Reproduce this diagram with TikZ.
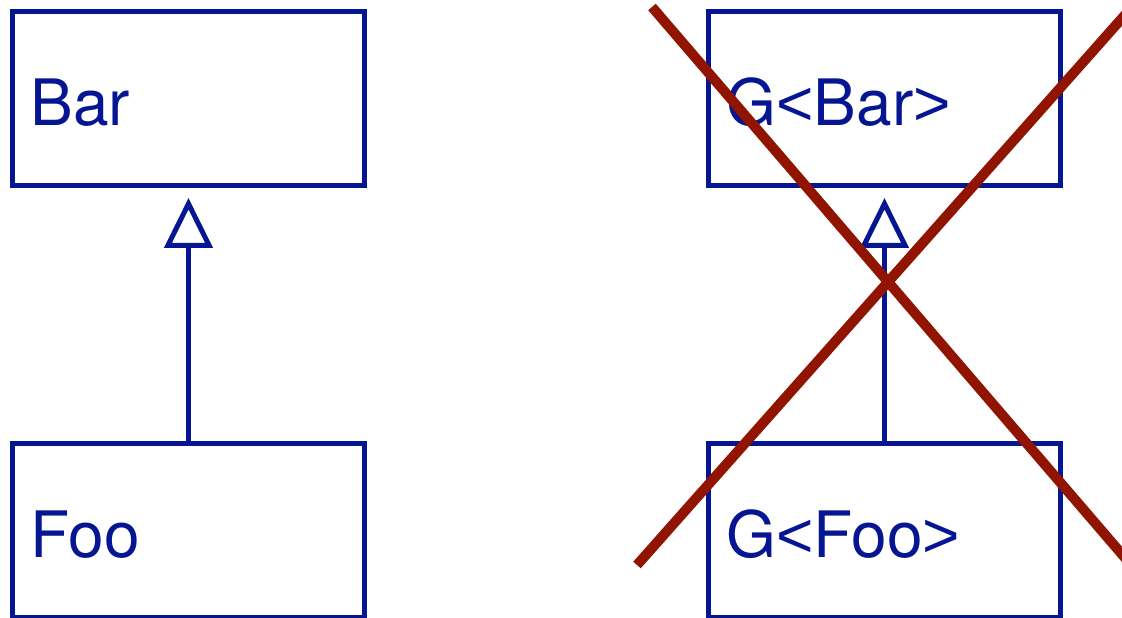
\documentclass[tikz,border=0pt]{standalone}
\usepackage{fontspec}
\setmainfont{TeX Gyre Heros}
\newfontfamily\brk{Liberation Sans}
\newcommand{\lt}{{\brk<}}
\newcommand{\gtr}{{\brk>}}
\usetikzlibrary{arrows.meta}
\definecolor{umlblue}{RGB}{6,22,146}
\definecolor{crossred}{RGB}{145,20,0}
\tikzset{
  umlbox/.style={draw=umlblue, line width=5pt, minimum width=352pt, minimum height=174pt, inner sep=0pt, fill=white},
  umltext/.style={anchor=base west, inner sep=0pt, text=umlblue, font=\fontsize{64pt}{64pt}\selectfont},
  inherit/.style={draw=umlblue, line width=5pt, -{Triangle[open, length=50pt, width=48pt]}, shorten >=9.5pt},
  cross/.style={draw=crossred, line width=10pt}
}
\begin{document}
\begin{tikzpicture}[x=1pt,y=1pt]
\useasboundingbox (0,0) rectangle (1122,618);
% left pair
\node[umlbox] (bar) at (188.5,519) {};
\node[umlbox] (foo) at (188.5,87.75) {};
\node[umltext] (barlbl) at (30.5,492) {Bar};
\node[umltext] (foolbl) at (30.5,60.7) {Foo};
\draw[inherit] (foo.north) -- (bar.south);
% right pair
\node[umlbox] (gbar) at (884.5,519) {};
\node[umlbox] (gfoo) at (884.5,87.75) {};
\node[umltext] (gbarlbl) at (726.5,492) {G\lt Bar\gtr};
\node[umltext] (gfoolbl) at (726.5,60.7) {G\lt Foo\gtr};
\draw[inherit] (gfoo.north) -- (gbar.south);
% red cross
\coordinate (x1a) at (652,611);
\coordinate (x1b) at (1132,52);
\coordinate (x2a) at (637,53);
\coordinate (x2b) at (1132,611);
\draw[cross] (x1a) -- (x1b);
\draw[cross] (x2a) -- (x2b);
\end{tikzpicture}
\end{document}
